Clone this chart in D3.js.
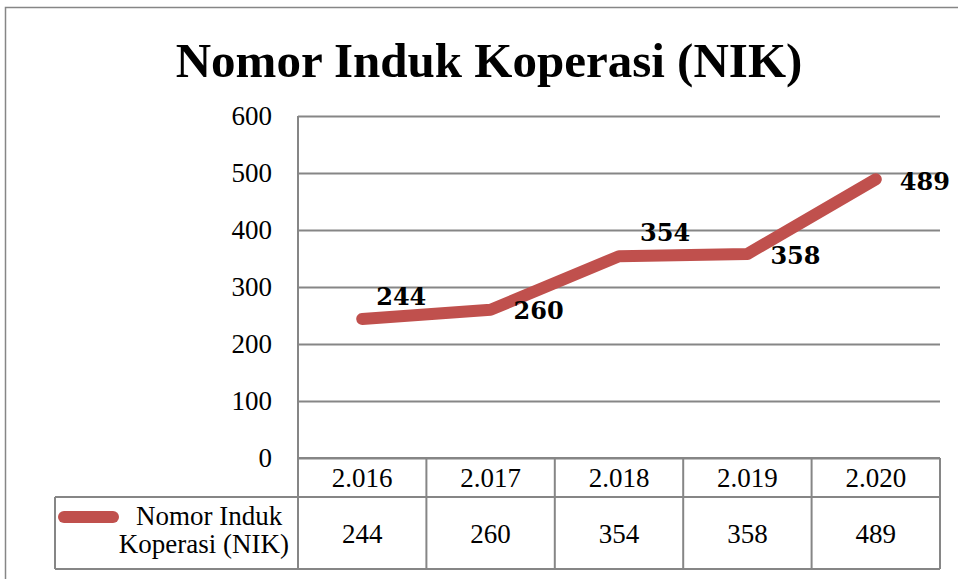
<!DOCTYPE html>
<html>
<head>
<meta charset="utf-8">
<script src="https://cdn.jsdelivr.net/npm/d3@7"></script>
<style>
  body { margin: 0; background: #fff; }
  svg { display: block; }
  text { font-family: "Liberation Serif", serif; fill: #000; }
</style>
</head>
<body>
<svg id="chart" width="958" height="579"></svg>
<script>
const title = "Nomor Induk Koperasi (NIK)";
const seriesName = ["Nomor Induk ", "Koperasi (NIK)"];
const years = ["2.016", "2.017", "2.018", "2.019", "2.020"];
const values = [244, 260, 354, 358, 489];
const yTicks = [0, 100, 200, 300, 400, 500, 600];

// label nudges (px), like Excel's manually placed data labels
const labelDx = [14, 23, 21, 23, 24];
const labelDy = [-22, 1, -24, 2, 2];

const svg = d3.select("#chart");
const lineColor = "#C0504D";
const gridColor = "#868686";

const plot = { left: 298, right: 940, top: 116, bottom: 458 };
const rowH = [39, 72];
const legendLeft = 55;

svg.append("rect")
  .attr("x", 5.5).attr("y", 7.5)
  .attr("width", 960).attr("height", 580)
  .attr("fill", "#fff").attr("stroke", gridColor).attr("stroke-width", 1.5);

const x = d3.scaleBand().domain(years).range([plot.left, plot.right]);
const y = d3.scaleLinear().domain([0, 600]).range([plot.bottom, plot.top]);

// title
svg.append("text")
  .attr("x", 489).attr("y", 77)
  .attr("text-anchor", "middle")
  .style("font-size", "49px").style("font-weight", "bold")
  .text(title);

// y axis + gridlines
svg.append("g")
  .attr("transform", `translate(${plot.left},0)`)
  .call(d3.axisLeft(y).tickValues(yTicks).tickSize(-(plot.right - plot.left)).tickPadding(26))
  .call(g => g.select(".domain").remove())
  .call(g => g.selectAll(".tick line").attr("stroke", gridColor).attr("stroke-width", 2))
  .call(g => g.selectAll(".tick text")
    .style("font-family", "'Liberation Serif', serif")
    .style("font-size", "27px")
    .attr("fill", "#000"));

svg.append("line")
  .attr("x1", plot.left).attr("x2", plot.left)
  .attr("y1", plot.top).attr("y2", plot.bottom + rowH[0] + rowH[1])
  .attr("stroke", gridColor).attr("stroke-width", 2);

// data table
const t0 = plot.bottom, t1 = t0 + rowH[0], t2 = t1 + rowH[1];
const tbl = svg.append("g").attr("stroke", gridColor).attr("stroke-width", 2);
tbl.append("line").attr("x1", plot.left).attr("x2", plot.right).attr("y1", t0).attr("y2", t0);
tbl.append("line").attr("x1", legendLeft).attr("x2", plot.right).attr("y1", t1).attr("y2", t1);
tbl.append("line").attr("x1", legendLeft).attr("x2", plot.right).attr("y1", t2).attr("y2", t2);
tbl.append("line").attr("x1", legendLeft).attr("x2", legendLeft).attr("y1", t1).attr("y2", t2);
tbl.selectAll(".col")
  .data(years)
  .join("line")
  .attr("x1", d => x(d) + x.bandwidth()).attr("x2", d => x(d) + x.bandwidth())
  .attr("y1", t0).attr("y2", t2);

svg.selectAll(".hdr")
  .data(years)
  .join("text")
  .attr("x", d => x(d) + x.bandwidth() / 2)
  .attr("y", 487)
  .attr("text-anchor", "middle")
  .style("font-size", "27px")
  .text(d => d);

svg.selectAll(".val")
  .data(values)
  .join("text")
  .attr("x", (d, i) => x(years[i]) + x.bandwidth() / 2)
  .attr("y", 543)
  .attr("text-anchor", "middle")
  .style("font-size", "27px")
  .text(d => d);

// legend key
svg.append("line")
  .attr("x1", 64).attr("x2", 113).attr("y1", 517).attr("y2", 517)
  .attr("stroke", lineColor).attr("stroke-width", 12).attr("stroke-linecap", "round");

svg.selectAll(".leg")
  .data(seriesName)
  .join("text")
  .attr("x", 289)
  .attr("y", (d, i) => 525 + i * 28)
  .attr("text-anchor", "end")
  .style("font-size", "27px")
  .style("white-space", "pre")
  .text(d => d);

// series line
const line = d3.line()
  .x((d, i) => x(years[i]) + x.bandwidth() / 2)
  .y(d => y(d));

svg.append("path")
  .datum(values)
  .attr("fill", "none")
  .attr("stroke", lineColor)
  .attr("stroke-width", 12)
  .attr("stroke-linecap", "round")
  .attr("stroke-linejoin", "round")
  .attr("d", line);

// data labels
svg.selectAll(".lbl")
  .data(values)
  .join("text")
  .attr("x", (d, i) => x(years[i]) + x.bandwidth() / 2 + labelDx[i])
  .attr("y", (d, i) => y(d) + labelDy[i])
  .attr("dy", "0.35em")
  .style("font-family", "'DejaVu Serif', serif")
  .style("font-size", "24px")
  .style("font-weight", "bold")
  .text(d => d);
</script>
</body>
</html>
